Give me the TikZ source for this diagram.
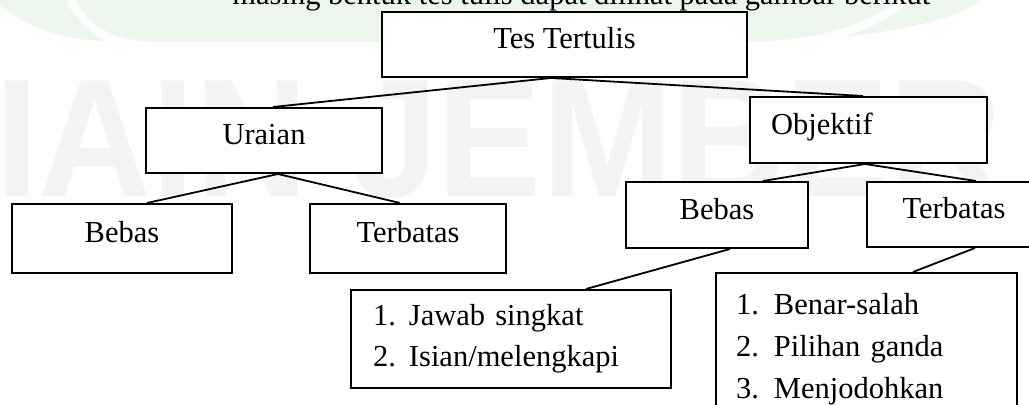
\documentclass[tikz,border=0pt]{standalone}
\usepackage{fontspec}
\setmainfont{Liberation Serif}
\newfontfamily\wmfont{Liberation Sans}
\definecolor{wmgreen}{RGB}{237,246,237}
\definecolor{wmgray}{RGB}{243,243,243}
\newcommand{\butir}[3]{\makebox[#1][l]{#2}#3}

\begin{document}
\begin{tikzpicture}[x = 0.5pt, y = -0.5pt, font = \fontsize{15.25}{20.5}\selectfont]
    \tikzset{kotak/.style = {draw, fill = white, line width = 1pt, inner sep = 0pt},
             satu/.style = {kotak, text height = 0.7em, text depth = 0.25em},
             garis/.style = {line width = 0.9pt}};
    \useasboundingbox (0,0) rectangle (1029,405);
    % watermark
    \fill[wmgreen] (0,0) -- (0,4) .. controls (40,40) and (90,42) .. (140,42) -- (720,42) .. controls (860,42) and (950,25) .. (980,0) -- cycle;
    \draw[white, line width = 4pt] (70,0) .. controls (90,34) and (110,42) .. (150,46);
    \draw[white, line width = 4pt] (905,0) .. controls (870,30) and (820,42) .. (760,46);
    \node[anchor = base west, inner sep = 0pt, text = wmgray, xscale = 0.93,
          font = \wmfont\bfseries\fontsize{84}{84}\selectfont] (wm) at (-5,197) {IAIN JEMBER};
    \node[anchor = base west, inner sep = 0pt] (kalimat) at (232,5) {masing bentuk tes tulis dapat dilihat pada gambar berikut};
    % boxes
    \node[satu, minimum width = 182.5pt, minimum height = 32.5pt] (tes) at (564.5,44.5) {Tes Tertulis};
    \node[satu, minimum width = 118pt, minimum height = 32.5pt] (uraian) at (264,140.5) {Uraian};
    \node[satu, text width = 97.5pt, inner xsep = 10.5pt, align = left, minimum height = 33pt] (objektif) at (868.5,130) {Objektif};
    \node[satu, minimum width = 110pt, minimum height = 34.5pt] (bebasA) at (122,238.5) {Bebas};
    \node[satu, minimum width = 98pt, minimum height = 34.5pt] (terbatasA) at (408,238.5) {Terbatas};
    \node[satu, minimum width = 91pt, minimum height = 33pt] (bebasB) at (717,215) {Bebas};
    \node[satu, minimum width = 87pt, minimum height = 32.5pt] (terbatasB) at (954,214.5) {Terbatas};
    \node[kotak, anchor = north west, text width = 138pt, inner xsep = 11pt, align = left,
          minimum height = 49pt] (jawab) at (350,289)
          {\butir{18pt}{1.}{Jawab singkat}\\ \butir{18pt}{2.}{Isian/melengkapi}};
    \node[kotak, anchor = north west, text width = 130.5pt, inner xsep = 10pt, align = left,
          minimum height = 76pt, font = \fontsize{15.25}{21}\selectfont] (pilihan) at (715,272)
          {\butir{19pt}{1.}{Benar-salah}\\ \butir{19pt}{2.}{Pilihan ganda}\\ \butir{19pt}{3.}{Menjodohkan}};
    % lines
    \draw[garis] ([xshift = -6.75pt]tes.south) -- ([xshift = 4.5pt]uraian.north);
    \draw[garis] ([xshift = -6.75pt]tes.south) -- ([xshift = -2.75pt]objektif.north);
    \draw[garis] ([xshift = 7pt]uraian.south) -- ([xshift = 12.5pt]bebasA.north);
    \draw[garis] ([xshift = 7pt]uraian.south) -- ([xshift = -4pt]terbatasA.north);
    \draw[garis] ([xshift = -1.75pt]objektif.south) -- ([xshift = 23pt]bebasB.north);
    \draw[garis] ([xshift = -1.75pt]objektif.south) -- ([xshift = 11pt]terbatasB.north);
    \draw[garis] ([xshift = 6.5pt]bebasB.south) -- ([xshift = 37.5pt]jawab.north);
    \draw[garis] ([xshift = 10.5pt]terbatasB.south) -- ([xshift = 23.25pt]pilihan.north);
\end{tikzpicture}
\end{document}
